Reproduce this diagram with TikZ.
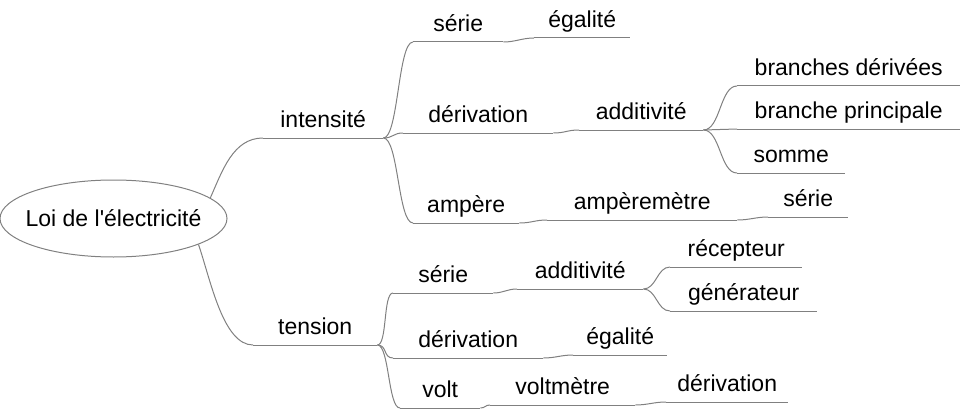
\documentclass[tikz,border=0pt]{standalone}
\usepackage{fontspec}
\setmainfont{Liberation Sans}
\usetikzlibrary{shapes.geometric}
\definecolor{linkgray}{HTML}{808080}

\begin{document}
\begin{tikzpicture}[
  x=1pt, y=-1pt,
  font=\fontsize{23}{28}\selectfont,
  link/.style={line width=1pt, linkgray},
  topic/.style={anchor=south west, inner xsep=0pt, inner ysep=10pt,
                text depth=0pt, align=center},
  rootnode/.style={ellipse, draw=linkgray, line width=1pt, inner xsep=-10pt,
                   inner ysep=0pt, minimum width=227pt, minimum height=77pt},
]
\useasboundingbox (0,0) rectangle (960,409);

\node[rootnode] (root) at (113.5,218.5) {Loi de l\textquotesingle électricité};

% intensite
\node[topic, minimum width=120] (intens) at (263,138) {intensité};
\node[topic, minimum width=90] (iSerie) at (413,42) {série};
\node[topic, minimum width=96] (iEgal) at (534,38) {égalité};
\node[topic, minimum width=150] (iDeriv) at (403,133) {dérivation};
\node[topic, minimum width=124] (iAdd) at (579,130) {additivité};
\node[topic, minimum width=223] (bDeriv) at (737,86) {branches dérivées};
\node[topic, minimum width=223] (bPrinc) at (737,129) {branche principale};
\node[topic, minimum width=108] (somme) at (737,173) {somme};
\node[topic, minimum width=106] (ampere) at (413,223) {ampère};
\node[topic, minimum width=190] (amperem) at (547,220) {ampèremètre};
\node[topic, minimum width=80] (ampSerie) at (768,217) {série};

% tension
\node[topic, minimum width=124] (tens) at (253,345) {tension};
\node[topic, minimum width=100] (tSerie) at (393,293) {série};
\node[topic, minimum width=126] (tAdd) at (517,289) {additivité};
\node[topic, minimum width=132] (recep) at (670,267) {récepteur};
\node[topic, minimum width=147] (gener) at (670,311) {générateur};
\node[topic, minimum width=150] (tDeriv) at (393,358) {dérivation};
\node[topic, minimum width=94] (tEgal) at (573,355) {égalité};
\node[topic, minimum width=80] (volt) at (400,408) {volt};
\node[topic, minimum width=145] (voltm) at (490,405) {voltmètre};
\node[topic, minimum width=122] (vDeriv) at (666,402) {dérivation};

% underlines
\foreach \n in {intens,iSerie,iEgal,iDeriv,iAdd,bDeriv,bPrinc,somme,ampere,
                amperem,ampSerie,tens,tSerie,tAdd,recep,gener,tDeriv,tEgal,
                volt,voltm,vDeriv}
  \draw[link] (\n.south west) -- (\n.south east);

% branches
\draw[link] (root.12) .. controls +(12,-27) and +(-30,0) .. (intens.south west);
\draw[link] (root.-17) .. controls +(12,35) and +(-30,0) .. (tens.south west);

\draw[link] (intens.south east) .. controls +(15,0) and +(-15,0) .. (iSerie.south west);
\draw[link] (intens.south east) .. controls +(10,0) and +(-10,0) .. (iDeriv.south west);
\draw[link] (intens.south east) .. controls +(15,0) and +(-15,0) .. (ampere.south west);
\draw[link] (iSerie.south east) .. controls +(12,0) and +(-12,0) .. (iEgal.south west);
\draw[link] (iDeriv.south east) .. controls +(12,0) and +(-12,0) .. (iAdd.south west);
\draw[link] (iAdd.south east) .. controls +(17,0) and +(-17,0) .. (bDeriv.south west);
\draw[link] (iAdd.south east) .. controls +(17,0) and +(-17,0) .. (bPrinc.south west);
\draw[link] (iAdd.south east) .. controls +(17,0) and +(-17,0) .. (somme.south west);
\draw[link] (ampere.south east) .. controls +(12,0) and +(-12,0) .. (amperem.south west);
\draw[link] (amperem.south east) .. controls +(12,0) and +(-12,0) .. (ampSerie.south west);

\draw[link] (tens.south east) .. controls +(10,0) and +(-10,0) .. (tSerie.south west);
\draw[link] (tens.south east) .. controls +(10,0) and +(-10,0) .. (tDeriv.south west);
\draw[link] (tens.south east) .. controls +(12,0) and +(-12,0) .. (volt.south west);
\draw[link] (tSerie.south east) .. controls +(10,0) and +(-10,0) .. (tAdd.south west);
\draw[link] (tAdd.south east) .. controls +(13,0) and +(-13,0) .. (recep.south west);
\draw[link] (tAdd.south east) .. controls +(13,0) and +(-13,0) .. (gener.south west);
\draw[link] (tDeriv.south east) .. controls +(12,0) and +(-12,0) .. (tEgal.south west);
\draw[link] (volt.south east) .. controls +(5,0) and +(-5,0) .. (voltm.south west);
\draw[link] (voltm.south east) .. controls +(12,0) and +(-12,0) .. (vDeriv.south west);

\end{tikzpicture}
\end{document}
